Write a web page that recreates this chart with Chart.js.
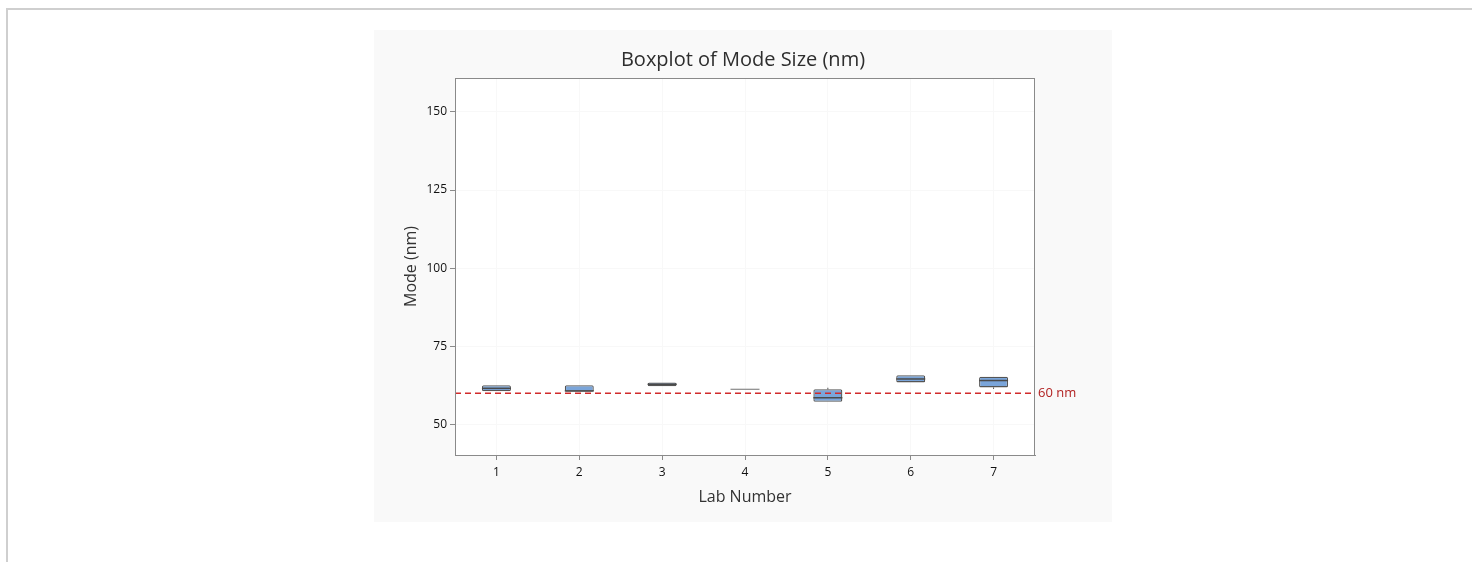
<!DOCTYPE html>
<html>
<head>
<meta charset="utf-8">
<script src="https://cdn.jsdelivr.net/npm/chart.js@4"></script>
<style>
  body { margin: 0; background: #fff; }
  .frame { position: absolute; left: 6px; top: 8px; width: 1480px; height: 570px;
           border-top: 2px solid #cfcfcf; border-left: 2px solid #cfcfcf; }
  .wrap { position: absolute; left: 374px; top: 30px; width: 738px; height: 492px; }
</style>
</head>
<body>
<div class="frame"></div>
<div class="wrap"><canvas id="myChart" width="738" height="492"></canvas></div>
<script>
const labs = ['1', '2', '3', '4', '5', '6', '7'];
const mins = [60.7, 60.5, 62.3, 61.3, 57.3, 63.5, 61.4];
const q1s = [60.7, 60.5, 62.3, 61.3, 57.3, 63.5, 61.9];
const medians = [61.6, 60.8, 62.9, 61.3, 58.6, 64.6, 64.1];
const q3s = [62.6, 62.6, 63.5, 61.3, 61.3, 65.8, 65.3];
const maxs = [62.6, 62.6, 63.5, 61.3, 61.8, 65.8, 65.3];
const refValue = 60;
const refLabel = '60 nm';
const yTicks = [50, 75, 100, 125, 150];

const fontFamily = '"Open Sans", "Noto Sans", sans-serif';

// background, plot frame, medians, whiskers, reference line
const boxExtras = {
  id: 'boxExtras',
  beforeDraw(chart) {
    const { ctx, chartArea: a } = chart;
    ctx.save();
    ctx.fillStyle = '#f9f9f9';
    ctx.fillRect(0, 0, chart.width, chart.height);
    ctx.fillStyle = '#ffffff';
    ctx.fillRect(a.left, a.top, a.right - a.left, a.bottom - a.top);
    ctx.restore();
  },
  afterDatasetsDraw(chart) {
    const { ctx, chartArea: a, scales } = chart;
    const y = scales.y;
    const meta = chart.getDatasetMeta(0);
    ctx.save();
    meta.data.forEach((bar, i) => {
      const half = bar.width / 2;
      // whiskers
      ctx.strokeStyle = '#555';
      ctx.lineWidth = 1;
      ctx.beginPath();
      if (maxs[i] > q3s[i]) {
        ctx.moveTo(bar.x, y.getPixelForValue(q3s[i]));
        ctx.lineTo(bar.x, y.getPixelForValue(maxs[i]));
      }
      if (mins[i] < q1s[i]) {
        ctx.moveTo(bar.x, y.getPixelForValue(q1s[i]));
        ctx.lineTo(bar.x, y.getPixelForValue(mins[i]));
      }
      ctx.stroke();
      // median
      const my = y.getPixelForValue(medians[i]);
      ctx.strokeStyle = q1s[i] === q3s[i] ? '#888' : '#4a4a4a';
      ctx.lineWidth = q1s[i] === q3s[i] ? 1.2 : 1.5;
      ctx.beginPath();
      ctx.moveTo(bar.x - half, my);
      ctx.lineTo(bar.x + half, my);
      ctx.stroke();
    });
    // reference line
    const ry = y.getPixelForValue(refValue);
    ctx.strokeStyle = '#d12b2b';
    ctx.lineWidth = 1.5;
    ctx.setLineDash([6, 4]);
    ctx.beginPath();
    ctx.moveTo(a.left, ry);
    ctx.lineTo(a.right, ry);
    ctx.stroke();
    ctx.setLineDash([]);
    ctx.fillStyle = '#b22222';
    ctx.font = '13px ' + fontFamily;
    ctx.textBaseline = 'middle';
    ctx.fillText(refLabel, a.right + 3, ry);
    // plot frame
    ctx.strokeStyle = '#8a8a8a';
    ctx.lineWidth = 1;
    ctx.strokeRect(a.left + 0.5, a.top + 0.5, a.right - a.left - 1, a.bottom - a.top);
    ctx.restore();
  }
};

const ctx = document.getElementById('myChart').getContext('2d');

new Chart(ctx, {
  type: 'bar',
  data: {
    labels: labs,
    datasets: [
      {
        data: labs.map((l, i) => [q1s[i], q3s[i]]),
        backgroundColor: '#7aa5da',
        borderColor: '#555',
        borderWidth: 1.3,
        borderRadius: 1.5,
        borderSkipped: false,
        categoryPercentage: 1,
        barPercentage: 0.35,
      },
    ],
  },
  plugins: [boxExtras],
  options: {
    responsive: false,
    animation: false,
    devicePixelRatio: 1,
    layout: { padding: 0 },
    plugins: {
      legend: { display: false },
      tooltip: { enabled: false },
      title: {
        display: true,
        text: 'Boxplot of Mode Size (nm)',
        color: '#2e2e2e',
        font: { family: fontFamily, size: 20, weight: 'normal' },
        padding: { top: 18, bottom: 6 },
      },
    },
    scales: {
      x: {
        grid: { color: '#f8f8f8', tickColor: '#8a8a8a', tickLength: 5, offset: false },
        border: { color: '#8a8a8a' },
        ticks: { color: '#111', font: { family: fontFamily, size: 12 }, padding: 5 },
        title: {
          display: true,
          text: 'Lab Number',
          color: '#333',
          font: { family: fontFamily, size: 16 },
          padding: { top: 0, bottom: 15 },
        },
        afterFit: (s) => { s.height = 67; },
      },
      y: {
        min: 40.3,
        max: 160.8,
        afterBuildTicks: (s) => { s.ticks = yTicks.map((v) => ({ value: v })); },
        grid: { color: '#f8f8f8', tickColor: '#8a8a8a', tickLength: 5 },
        border: { color: '#8a8a8a' },
        ticks: { color: '#111', font: { family: fontFamily, size: 12 }, padding: 3 },
        title: {
          display: true,
          text: 'Mode (nm)',
          color: '#333',
          font: { family: fontFamily, size: 16 },
          padding: { top: 28, bottom: 0 },
        },
        afterFit: (s) => { s.width = 81; },
      },
      // empty right-hand margin so the title centres over the whole figure
      yRight: {
        position: 'right',
        grid: { display: false },
        border: { display: false },
        ticks: { display: false },
        afterFit: (s) => { s.width = 77; },
      },
    },
  },
});
</script>
</body>
</html>
